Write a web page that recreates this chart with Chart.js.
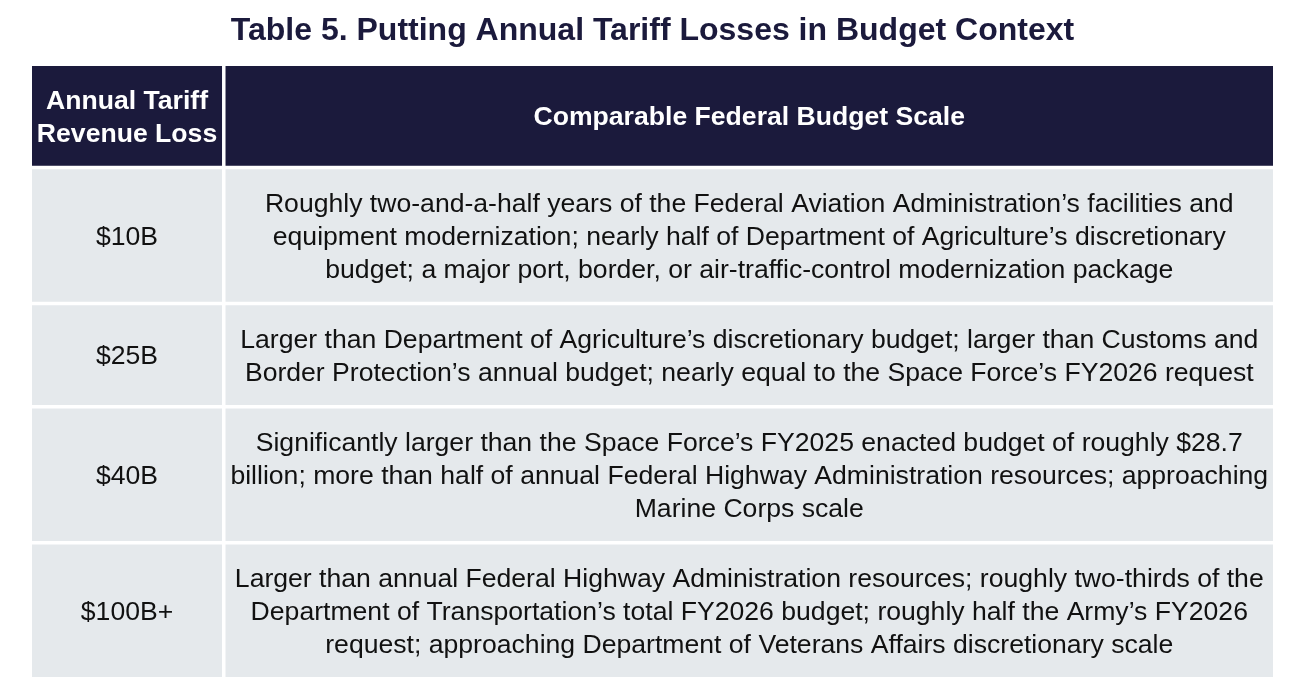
<!DOCTYPE html>
<html>
<head>
<meta charset="utf-8">
<script src="https://cdn.jsdelivr.net/npm/chart.js@4.4.0/dist/chart.umd.min.js"></script>
<style>
  html, body { margin:0; padding:0; background:#fff; }
  #wrap { width:1300px; height:698px; }
</style>
</head>
<body>
<div id="wrap"><canvas id="tabla"></canvas></div>
<script>
// datos de la tabla
const titulo = "Table 5. Putting Annual Tariff Losses in Budget Context";
const encabezados = [["Annual Tariff", "Revenue Loss"], ["Comparable Federal Budget Scale"]];
const perdidas = ["$10B", "$25B", "$40B", "$100B+"];
const escalas = [
  ["Roughly two-and-a-half years of the Federal Aviation Administration’s facilities and",
   "equipment modernization; nearly half of Department of Agriculture’s discretionary",
   "budget; a major port, border, or air-traffic-control modernization package"],
  ["Larger than Department of Agriculture’s discretionary budget; larger than Customs and",
   "Border Protection’s annual budget; nearly equal to the Space Force’s FY2026 request"],
  ["Significantly larger than the Space Force’s FY2025 enacted budget of roughly $28.7",
   "billion; more than half of annual Federal Highway Administration resources; approaching",
   "Marine Corps scale"],
  ["Larger than annual Federal Highway Administration resources; roughly two-thirds of the",
   "Department of Transportation’s total FY2026 budget; roughly half the Army’s FY2026",
   "request; approaching Department of Veterans Affairs discretionary scale"]
];

// estilo
const NAVY = "#1b1a3c";
const GRIS = "#e5e9ec";
const FUENTE = '"Liberation Sans", Arial, Helvetica, sans-serif';
const COL1 = 0.1555;   // fraccion del ancho para la primera columna
const PAD = 1.154;     // relleno de cada fila, en lineas
const GAP = 3.5;       // separacion blanca entre celdas (px)

// filas: alto en "lineas" acumulado
const filas = [];
let acum = 0;
[{ celdas: encabezados, header: true }]
  .concat(perdidas.map((p, i) => ({ celdas: [[p], escalas[i]], header: false })))
  .forEach(f => {
    const n = Math.max(...f.celdas.map(c => c.length));
    filas.push({ ...f, y0: acum, y1: acum + n + PAD });
    acum += n + PAD;
  });

const dibujarTabla = {
  id: "dibujarTabla",
  beforeDatasetsDraw(chart) {
    const { ctx, scales: { x, y } } = chart;
    const lh = y.getPixelForValue(1) - y.getPixelForValue(0);
    ctx.save();
    filas.forEach(f => {
      const top = y.getPixelForValue(f.y0), bot = y.getPixelForValue(f.y1);
      [[0, COL1], [COL1, 1]].forEach(([a, b], j) => {
        const l = x.getPixelForValue(a), r = x.getPixelForValue(b);
        ctx.fillStyle = f.header ? NAVY : GRIS;
        ctx.fillRect(l + GAP / 2, top + GAP / 2, r - l - GAP, bot - top - GAP);
        const lineas = f.celdas[j];
        ctx.fillStyle = f.header ? "#ffffff" : "#111111";
        ctx.font = f.header ? "bold 26.6px " + FUENTE : "26.6px " + FUENTE;
        ctx.textAlign = "center";
        ctx.textBaseline = "middle";
        const cx = (l + r) / 2, cy = (top + bot) / 2 + 2;
        lineas.forEach((t, k) => {
          ctx.fillText(t, cx, cy + (k - (lineas.length - 1) / 2) * lh);
        });
      });
    });
    ctx.restore();
  }
};

new Chart(document.getElementById("tabla"), {
  type: "scatter",
  data: { datasets: [] },
  options: {
    responsive: true,
    maintainAspectRatio: false,
    animation: false,
    layout: { padding: { left: 30.25, right: 25.25, top: 0, bottom: 19.25 } },
    plugins: {
      legend: { display: false },
      tooltip: { enabled: false },
      title: {
        display: true, text: titulo, color: NAVY,
        font: { family: FUENTE, size: 32, weight: "bold", lineHeight: 1.2 },
        padding: { top: 11.8, bottom: 14.05 }
      }
    },
    scales: {
      x: { type: "linear", min: 0, max: 1, display: false },
      y: { type: "linear", min: 0, max: acum, reverse: true, display: false }
    }
  },
  plugins: [dibujarTabla]
});
</script>
</body>
</html>
